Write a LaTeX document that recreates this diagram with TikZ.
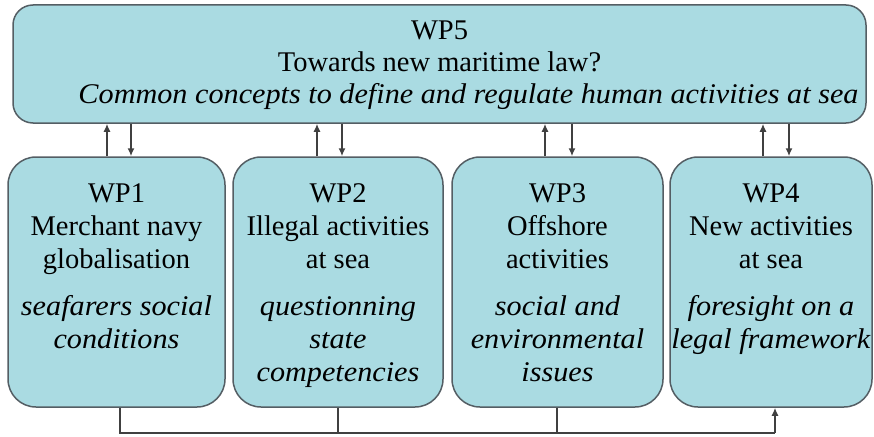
\documentclass[tikz,border=0pt]{standalone}
\usepackage{fontspec}
\setmainfont{Liberation Serif}[ItalicFeatures={FakeStretch=1.06}]
\usetikzlibrary{positioning}
\usetikzlibrary{arrows.meta}
\definecolor{wpfill}{RGB}{170,219,226}
\definecolor{wpline}{RGB}{84,94,100}
\tikzset{
	wpbox/.style={draw=wpline, fill=wpfill, line width=1.5pt, rounded corners=28pt,
			minimum height=250pt, inner sep=0pt},
	wptext/.style={align=center, inner sep=0pt, text=black,
			font=\rmfamily\fontsize{28.5}{33}\selectfont},
	link/.style={draw=black!75, line width=1.5pt},
	tip/.style={-{Latex[length=8pt,width=7pt]}}
}

\begin{document}
\begin{tikzpicture}[x=1pt, y=-1pt]
	\useasboundingbox (0,0) rectangle (874,436);

	% work packages
	\node[wpbox, minimum width=853pt, minimum height=118pt, rounded corners=20pt] (wp5) at (439.5,64) {};
	\node[wpbox, minimum width=217pt] (wp1) at (116.5,282) {};
	\node[wpbox, minimum width=210pt] (wp2) at (338,282) {};
	\node[wpbox, minimum width=211pt] (wp3) at (557.5,282) {};
	\node[wpbox, minimum width=202pt] (wp4) at (771,282) {};

	\node[wptext, below=16pt of wp5.north] (wp5t) {WP5\\[-1pt]Towards new maritime law?\\[-1pt]
			\hspace*{58pt}\textit{Common concepts to define and regulate human activities at sea}};
	\node[wptext, below=27pt of wp1.north] (wp1t) {WP1\\Merchant navy\\globalisation\\[14pt]
			\textit{seafarers social}\\\textit{conditions}};
	\node[wptext, below=27pt of wp2.north] (wp2t) {WP2\\Illegal activities\\at sea\\[14pt]
			\textit{questionning}\\\textit{state}\\\textit{competencies}};
	\node[wptext, below=27pt of wp3.north] (wp3t) {WP3\\Offshore\\activities\\[14pt]
			\textit{social and}\\\textit{environmental}\\\textit{issues}};
	\node[wptext, below=27pt of wp4.north] (wp4t) {WP4\\New activities\\at sea\\[14pt]
			\textit{foresight on a}\\\textit{legal framework}};

	% up and down
	\foreach \u/\d/\n in {107/131/wp1, 317/342/wp2, 545/572/wp3, 763/789/wp4}{
		\draw[link, tip] (\u,0 |- \n.north) -- (\u,0 |- wp5.south);
		\draw[link, tip] (\d,0 |- wp5.south) -- (\d,0 |- \n.north);
	}

	% bottom line
	\coordinate (busl) at (120,433);
	\coordinate (busr) at (775,433);
	\draw[link] (busl |- wp1.south) -- (busl) -- (busr);
	\draw[link] (338,0 |- wp2.south) -- (338,433);
	\draw[link] (557,0 |- wp3.south) -- (557,433);
	\draw[link, tip] (busr) -- (busr |- wp4.south);
\end{tikzpicture}
\end{document}
